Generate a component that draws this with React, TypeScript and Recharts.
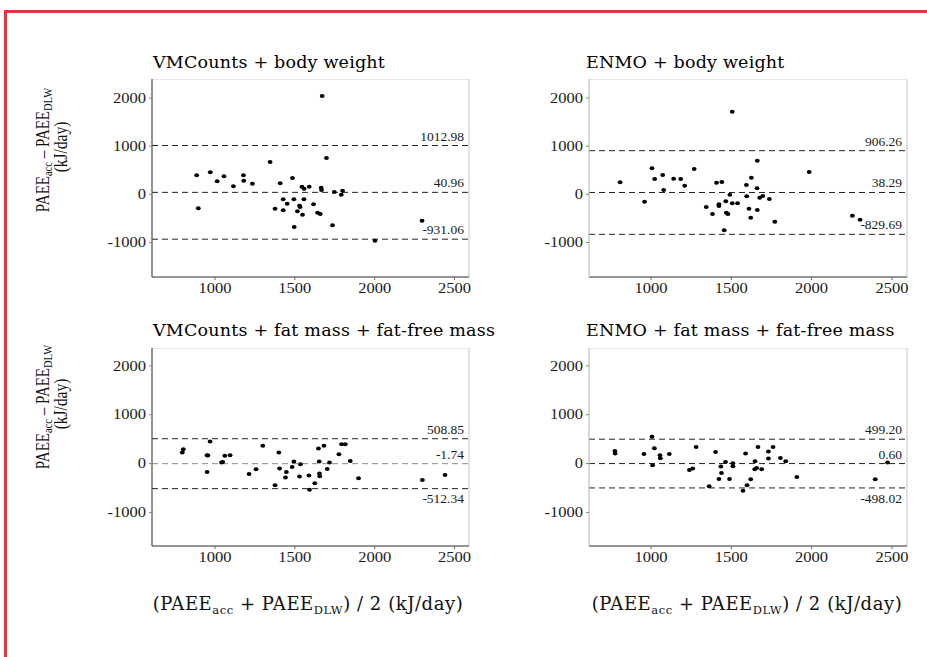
import React from 'react';
import { ScatterChart, Scatter, XAxis, YAxis, ReferenceLine, ReferenceArea } from 'recharts';

// Bland-Altman data: mean of both methods (kJ/day) and difference acc − DLW (kJ/day)
const vmcBwMean = [885, 895, 970, 1013, 1056, 1115, 1178, 1180, 1234, 1345, 1376, 1408, 1427, 1427, 1452, 1485, 1494, 1496, 1516, 1529, 1533, 1544, 1548, 1557, 1558, 1590, 1617, 1642, 1659, 1665, 1667, 1671, 1698, 1736, 1747, 1791, 1799, 2002, 2297];
const vmcBwDiff = [394, -291, 456, 270, 373, 166, 394, 283, 220, 670, -298, 228, -104, -332, -194, 338, -104, -679, -353, -236, -264, 158, -422, -104, 117, 158, -208, -381, -409, 137, 89, 2040, 753, -643, 48, -7, 75, -963, -548];
const vmcBwLimits = [1012.98, 40.96, -931.06];

const enmoBwMean = [808, 960, 1006, 1023, 1073, 1079, 1141, 1185, 1210, 1269, 1344, 1383, 1408, 1423, 1423, 1441, 1456, 1466, 1469, 1479, 1491, 1506, 1506, 1539, 1594, 1596, 1610, 1621, 1625, 1660, 1662, 1662, 1677, 1696, 1737, 1771, 1985, 2254, 2302];
const enmoBwDiff = [249, -153, 539, 317, 400, 89, 324, 317, 179, 525, -264, -409, 241, -208, -243, 255, -747, -145, -382, -409, -8, 1714, -187, -187, 193, -42, -298, -485, 345, 124, 698, -326, -70, -35, -97, -568, 463, -443, -527];
const enmoBwLimits = [906.26, 38.29, -829.69];

const vmcFmMean = [795, 801, 950, 955, 950, 969, 1040, 1048, 1061, 1094, 1213, 1257, 1299, 1376, 1400, 1404, 1441, 1447, 1483, 1494, 1529, 1535, 1588, 1592, 1625, 1648, 1653, 1654, 1656, 1682, 1703, 1717, 1776, 1793, 1816, 1847, 1899, 2299, 2441];
const vmcFmDiff = [225, 295, 172, 165, -170, 451, 21, 35, 158, 172, -211, -115, 363, -443, 225, -102, -287, -170, -68, 41, -266, -12, -246, -533, -402, 307, 41, -205, -258, 363, -109, 21, 193, 398, 398, 55, -299, -334, -232];
const vmcFmLimits = [508.85, -1.74, -512.34];

const enmoFmMean = [775, 777, 956, 1006, 1021, 1010, 1056, 1058, 1114, 1239, 1260, 1281, 1362, 1402, 1423, 1435, 1439, 1464, 1489, 1510, 1510, 1573, 1589, 1598, 1621, 1646, 1658, 1648, 1666, 1689, 1731, 1731, 1760, 1806, 1839, 1908, 2396, 2473];
const enmoFmDiff = [257, 204, 196, 551, 312, -35, 169, 108, 196, -130, -102, 339, -463, 237, -314, -61, -191, 33, -314, 6, -55, -558, 204, -443, -320, -116, -90, 47, 339, -116, 245, 102, 339, 114, 47, -273, -320, 20];
const enmoFmLimits = [499.2, 0.6, -498.02];

const xTicks = [1000, 1500, 2000, 2500];
const yTicks = [-1000, 0, 1000, 2000];

const SERIF = "'Liberation Serif', 'Times New Roman', serif";
const TITLE = "'DejaVu Serif', serif";
const AXIS_W = 60;
const AXIS_H = 30;
const RED = '#d63a42';

const serifTick = (props: any, axis: 'x' | 'y') => {
  const { x, y, payload } = props;
  return (
    <text
      transform={`translate(${x},${y}) scale(1.18,1)`}
      textAnchor={axis === 'x' ? 'middle' : 'end'}
      dy={axis === 'x' ? '0.71em' : '0.34em'}
      fontFamily={SERIF}
      fontSize={14}
      fill="#1a1a1a"
    >
      {payload.value}
    </text>
  );
};

type PanelProps = {
  left: number;
  top: number;
  w: number;
  h: number;
  xDomain: [number, number];
  yDomain: [number, number];
  mean: number[];
  diff: number[];
  limits: number[];
  lowerBelow: boolean;
  meanStroke: string;
  leftAxis: string;
};

function Panel(p: PanelProps) {
  const data = p.mean.map((m, i) => ({ m, d: p.diff[i] }));
  return (
    <div style={{ position: 'absolute', left: p.left - AXIS_W, top: p.top }}>
      <ScatterChart
        width={AXIS_W + p.w + 10}
        height={p.h + AXIS_H}
        margin={{ top: 0, right: 10, bottom: 0, left: 0 }}
      >
        <ReferenceArea
          x1={p.xDomain[0]}
          x2={p.xDomain[1]}
          y1={p.yDomain[0]}
          y2={p.yDomain[1]}
          fill="none"
          stroke="#cfcfcf"
          strokeWidth={1.2}
        />
        <XAxis
          type="number"
          dataKey="m"
          domain={p.xDomain}
          ticks={xTicks}
          allowDataOverflow
          height={AXIS_H}
          tickSize={3}
          tickMargin={3}
          axisLine={{ stroke: '#444' }}
          tickLine={{ stroke: '#666' }}
          tick={(t: any) => serifTick(t, 'x')}
        />
        <YAxis
          type="number"
          dataKey="d"
          domain={p.yDomain}
          ticks={yTicks}
          allowDataOverflow
          width={AXIS_W}
          tickSize={3}
          tickMargin={3}
          axisLine={{ stroke: p.leftAxis }}
          tickLine={{ stroke: '#888' }}
          tick={(t: any) => serifTick(t, 'y')}
        />
        {p.limits.map((v, i) => (
          <ReferenceLine
            key={i}
            y={v}
            stroke={i === 1 ? p.meanStroke : '#222'}
            strokeDasharray="6 4"
            strokeWidth={1}
            label={{
              value: v.toFixed(2),
              position: i === 2 && p.lowerBelow ? 'insideTopRight' : 'insideBottomRight',
              offset: 5,
              fontFamily: SERIF,
              fontSize: 13.5,
              fill: '#1a1a1a',
            }}
          />
        ))}
        <Scatter
          data={data}
          isAnimationActive={false}
          shape={(s: any) => <ellipse cx={s.cx} cy={s.cy} rx={2.4} ry={2} fill="#000" />}
        />
      </ScatterChart>
    </div>
  );
}

const YLabel = ({ cy }: { cy: number }) => (
  <g fontFamily={SERIF} fill="#111">
    <text transform={`translate(49,${cy}) rotate(-90) scale(1,1.25)`} textAnchor="middle" fontSize={15}>
      PAEE<tspan fontSize={10.5} dy={2.5}>acc</tspan>
      <tspan dy={-2.5}> – PAEE</tspan>
      <tspan fontSize={10.5} dy={2.5}>DLW</tspan>
    </text>
    <text transform={`translate(67,${cy - 3}) rotate(-90) scale(1,1.25)`} textAnchor="middle" fontSize={15.5}>
      (kJ/day)
    </text>
  </g>
);

const XLabel = ({ cx }: { cx: number }) => (
  <text x={cx} y={610} textAnchor="middle" fontFamily={TITLE} fontSize={18} letterSpacing={0.55} fill="#111">
    (PAEE<tspan fontSize={11.5} dy={4}>acc</tspan>
    <tspan dy={-4}> + PAEE</tspan>
    <tspan fontSize={11.5} dy={4}>DLW</tspan>
    <tspan dy={-4}>) / 2 (kJ/day)</tspan>
  </text>
);

export default function App() {
  return (
    <div style={{ position: 'absolute', left: 0, top: 0, width: 927, height: 657, background: '#fff', overflow: 'hidden' }}>
      {/* red frame: top and left edges only */}
      <div style={{ position: 'absolute', left: 4, top: 10, width: 923, height: 3, background: RED }} />
      <div style={{ position: 'absolute', left: 4, top: 10, width: 3, height: 647, background: RED }} />
      <svg width={927} height={657} style={{ position: 'absolute', left: 0, top: 0 }}>
        <g fontFamily={TITLE} fontSize={17.5} letterSpacing={0.2} fill="#000">
          <text x={153} y={68}>VMCounts + body weight</text>
          <text x={586} y={68}>ENMO + body weight</text>
          <text x={153} y={336}>VMCounts + fat mass + fat-free mass</text>
          <text x={586} y={336}>ENMO + fat mass + fat-free mass</text>
        </g>
        <YLabel cy={150} />
        <YLabel cy={407} />
        <XLabel cx={308} />
        <XLabel cx={747} />
      </svg>
      <Panel left={152} top={79} w={317} h={198} xDomain={[605, 2591]} yDomain={[-1716, 2394]}
        mean={vmcBwMean} diff={vmcBwDiff} limits={vmcBwLimits} lowerBelow={false} meanStroke="#222" leftAxis="#444" />
      <Panel left={589} top={79} w={318} h={198} xDomain={[614, 2594]} yDomain={[-1716, 2394]}
        mean={enmoBwMean} diff={enmoBwDiff} limits={enmoBwLimits} lowerBelow={false} meanStroke="#222" leftAxis="#cfcfcf" />
      <Panel left={152} top={348} w={317} h={198} xDomain={[605, 2591]} yDomain={[-1686, 2365]}
        mean={vmcFmMean} diff={vmcFmDiff} limits={vmcFmLimits} lowerBelow={true} meanStroke="#8a8a8a" leftAxis="#444" />
      <Panel left={589} top={348} w={318} h={198} xDomain={[614, 2594]} yDomain={[-1686, 2365]}
        mean={enmoFmMean} diff={enmoFmDiff} limits={enmoFmLimits} lowerBelow={true} meanStroke="#222" leftAxis="#cfcfcf" />
    </div>
  );
}
